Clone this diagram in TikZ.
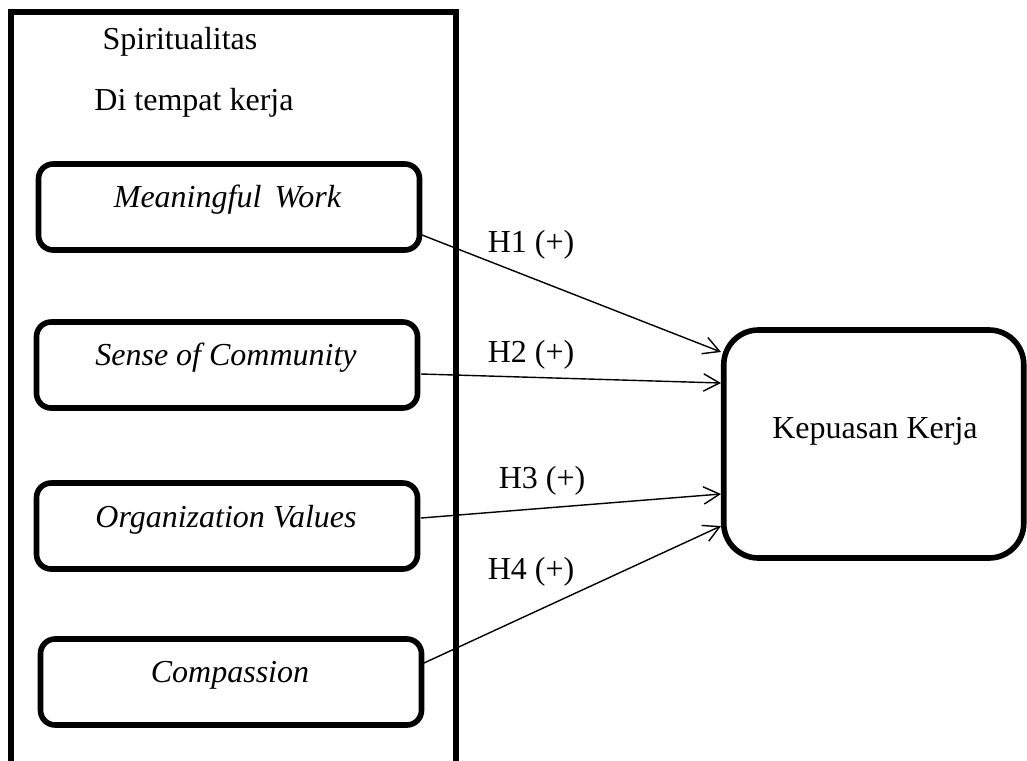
\documentclass[tikz,border=0pt]{standalone}
\usepackage{fontspec}
\setmainfont{Liberation Serif}
\usetikzlibrary{arrows.meta}
\begin{document}
\begin{tikzpicture}[x=0.75pt,y=-0.75pt,
  frame/.style={draw, line width=4.5pt, inner sep=0pt},
  inbox/.style={draw, line width=4.2pt, rounded corners=11pt, inner sep=0pt,
    minimum width=285.75pt, minimum height=64.5pt},
  outbox/.style={draw, line width=4.2pt, rounded corners=26pt, inner sep=0pt,
    minimum width=225pt, minimum height=171pt},
  txt/.style={font=\fontsize{24}{28}\selectfont, anchor=base, inner sep=0pt},
  itxt/.style={txt, font=\fontsize{24}{28}\selectfont\itshape},
  link/.style={line width=1.05pt, -{Straight Barb[length=12pt,width=13pt,line width=1.05pt]}}]
\useasboundingbox (0,0) rectangle (1027,760);
\clip (0,0) rectangle (1027,760);
% outer frame
\node[frame, minimum width=333.4pt, minimum height=588pt] (outer) at (233.75,403.5) {};
\node[txt] (t0a) at (180,49) {Spiritualitas};
\node[txt] (t0b) at (194,110) {Di tempat kerja};
% inner boxes
\node[inbox] (b1) at (229,207) {};
\node[inbox] (b2) at (227,365) {};
\node[inbox] (b3) at (227,526) {};
\node[inbox] (b4) at (231,682) {};
\node[itxt] (t1) at (227.5,207) {Meaningful\, Work};
\node[itxt] (t2) at (226,365) {Sense of Community};
\node[itxt] (t3) at (226,527) {Organization Values};
\node[itxt] (t4) at (230,682) {Compassion};
% dependent box
\node[outbox] (k) at (873.75,444) {};
\node[txt] (tk) at (875,438) {Kepuasan Kerja};
% connector endpoints
\coordinate (s1) at (422,235);
\coordinate (s2) at (421,374);
\coordinate (s3) at (421,518);
\coordinate (s4) at (424,663);
\coordinate (e1) at (721,352);
\coordinate (e2) at (721,383);
\coordinate (e3) at (721,494);
\coordinate (e4) at (721,526);
\draw[link] (s1) -- (e1);
\draw[link] (s2) -- (e2);
\draw[link] (s3) -- (e3);
\draw[link] (s4) -- (e4);
% labels
\node[txt] (h1) at (531,252) {H1 (+)};
\node[txt] (h2) at (531,362) {H2 (+)};
\node[txt] (h3) at (542,488) {H3 (+)};
\node[txt] (h4) at (531,579) {H4 (+)};
\end{tikzpicture}
\end{document}
